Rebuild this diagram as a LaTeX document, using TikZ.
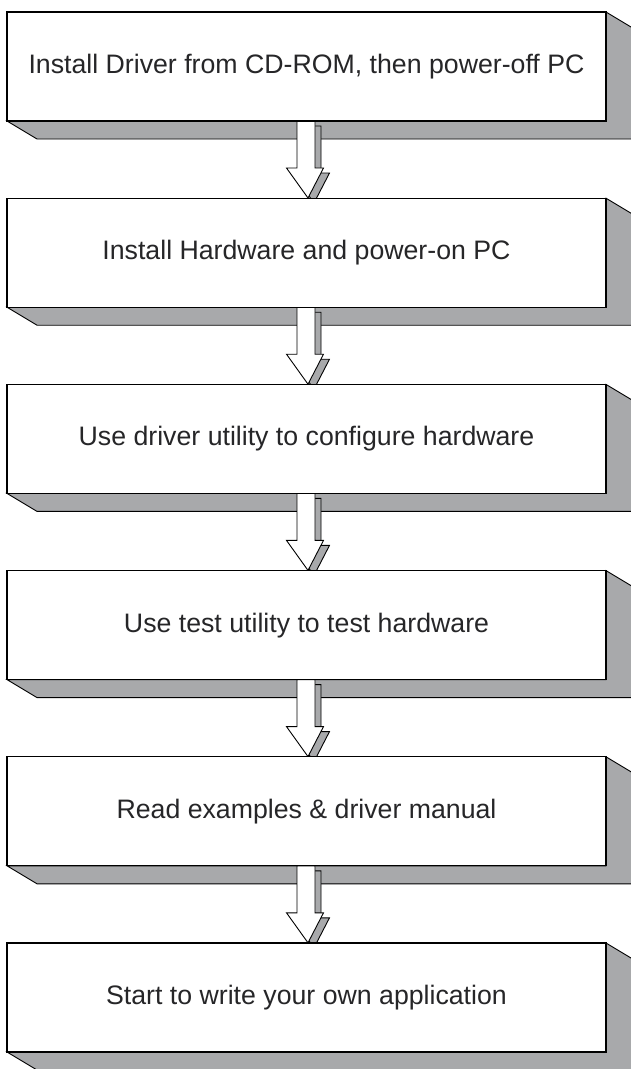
\documentclass[tikz,border=0pt]{standalone}
\usepackage{fontspec}
\setmainfont{Liberation Sans}
\usepackage{xcolor}
\usetikzlibrary{positioning,backgrounds}

\definecolor{shadegray}{RGB}{168,169,171}
\definecolor{textgray}{RGB}{38,38,40}

\begin{document}
\begin{tikzpicture}[x=1pt,y=1pt,node distance=186.2pt,
    step box/.style={rectangle,draw,line width=1.3pt,fill=white,minimum width=599pt,minimum height=109pt,inner sep=0pt,outer sep=0pt,text=textgray,font=\fontsize{26.7}{32}\selectfont},
    box shade/.style={draw,line width=0.9pt,fill=shadegray},
    arrow front/.style={draw,line width=0.9pt,fill=white},
    arrow shade/.style={draw,line width=0.9pt,fill=shadegray}]

    \useasboundingbox (0,0) rectangle (631,-1069);

    \node[step box]  (1) at (306.5,-66.5) {Install Driver from CD-ROM, then power-off PC};
    \node[step box]  (2) [below of = 1] {Install Hardware and power-on PC};
    \node[step box]  (3) [below of = 2] {Use driver utility to configure hardware};
    \node[step box]  (4) [below of = 3] {Use test utility to test hardware};
    \node[step box]  (5) [below of = 4] {Read examples \& driver manual};
    \node[step box]  (6) [below of = 5] {Start to write your own application};

    \begin{scope}[on background layer]
        % 3d sides of the boxes
        \foreach \n in {1,...,6}
            \draw[box shade] (\n.south west) -- ++(30,-18) -- ++(599,0) -- ++(0,109)
                -- (\n.north east) -- (\n.south east) -- cycle;

        % hollow block arrows between the steps
        \foreach \a/\b in {1/2,2/3,3/4,4/5,5/6} {
            \draw[arrow shade,shift={(\a.south)},shift={(6,-5)}]
                (-9.5,0) -- (-9.5,-47) -- (-20,-47) -- (1.5,-77) -- (17,-47) -- (8.5,-47) -- (8.5,0) -- cycle;
            \draw[arrow front,shift={(\a.south)}]
                (-9.5,0) -- (-9.5,-47) -- (-20,-47) -- (1.5,-77) -- (17,-47) -- (8.5,-47) -- (8.5,0) -- cycle;
        }
    \end{scope}
\end{tikzpicture}
\end{document}
